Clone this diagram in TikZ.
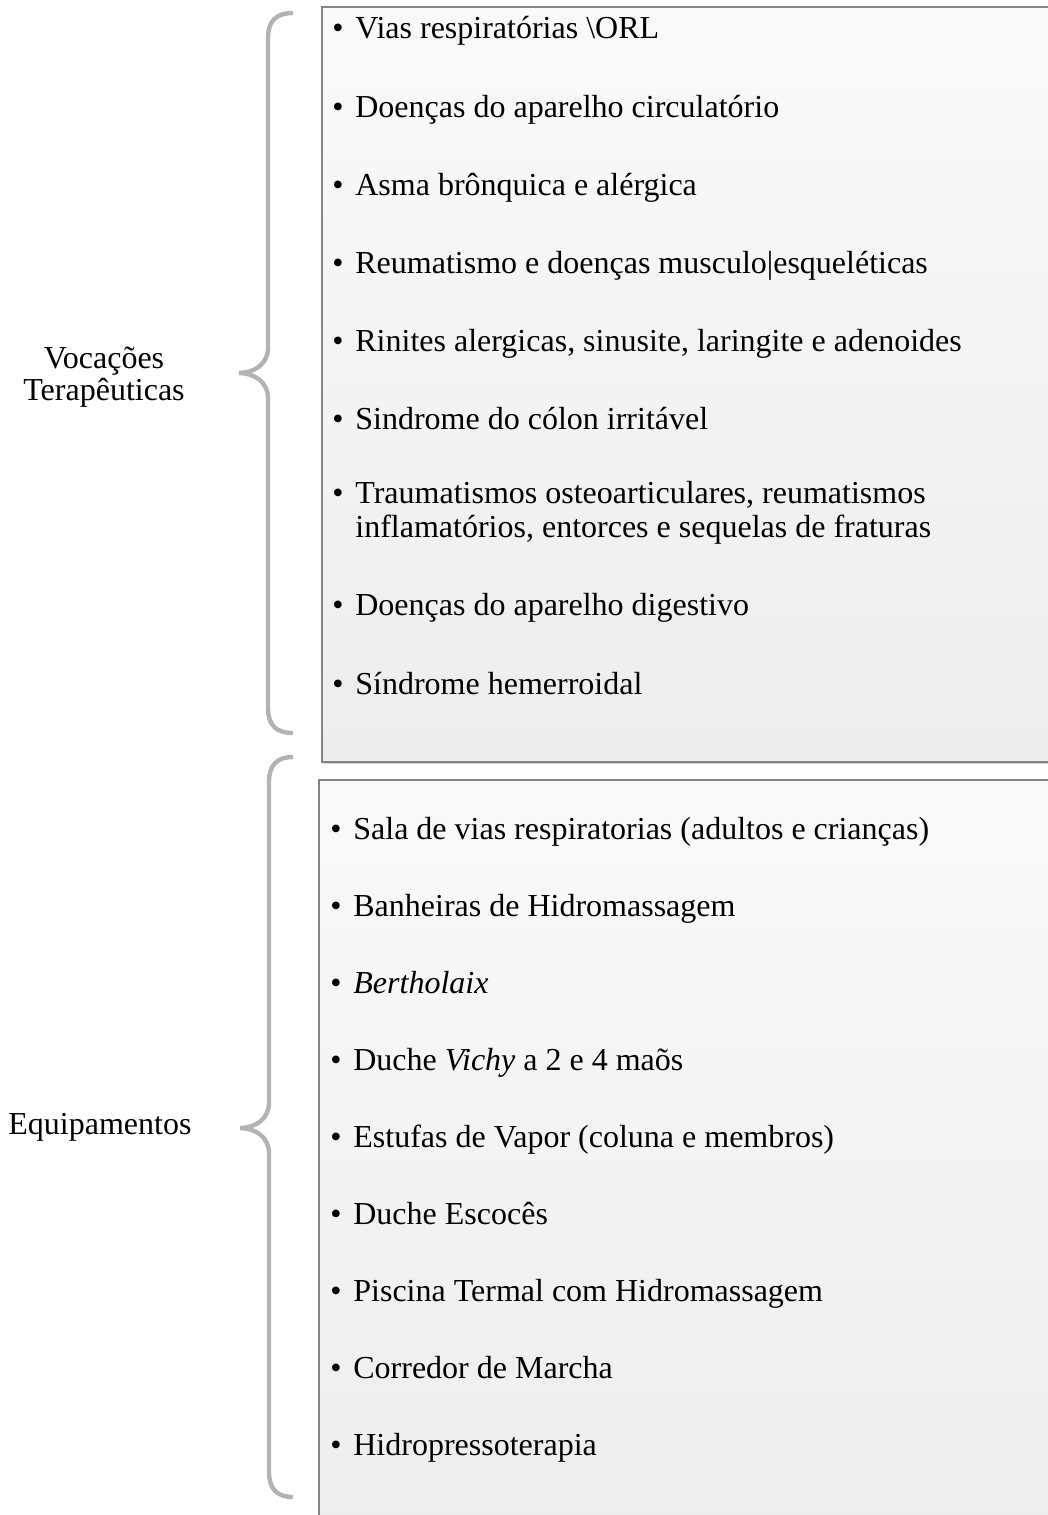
\documentclass[tikz,border=0pt]{standalone}
\usepackage{fontspec}
\setmainfont{Liberation Serif}
\usetikzlibrary{shadows}
\definecolor{bracegray}{HTML}{B3B3B3}
\definecolor{boxline}{HTML}{858585}
\definecolor{boxtop}{HTML}{FAFAFA}
\definecolor{boxbottom}{HTML}{EDEDED}
\newcommand{\bul}{\makebox[11.5pt][l]{\textbullet}}

\begin{document}
\begin{tikzpicture}[x=0.5pt,y=-0.5pt,
		brace/.style={draw=bracegray, line width=2.2pt},
		panel/.style={draw=boxline, line width=0.7pt, top color=boxtop, bottom color=boxbottom,
			drop shadow={opacity=0.35, shadow xshift=1pt, shadow yshift=-1.2pt}},
		item/.style={anchor=base west, inner sep=0pt, align=left, font=\fontsize{16}{17}\selectfont},
		label/.style={inner sep=0pt, align=center, font=\fontsize{16}{16}\selectfont}]
			\useasboundingbox (0,0) rectangle (1048,1515);
			\clip (0,0) rectangle (1048,1515);
			\path[panel] (322,7) rectangle (1070,762);
			\path[panel] (319,780) rectangle (1070,1540);
			\draw[brace] (293,13) .. controls (276,13) and (268,21) .. (268,38) -- (268,348) .. controls (268,364) and (254,373) .. (239,373) .. controls (254,373) and (268,382) .. (268,398) -- (268,708) .. controls (268,725) and (276,733) .. (293,733);
			\draw[brace] (293,757) .. controls (277,757) and (269,765) .. (269,782) -- (269,1103) .. controls (269,1119) and (255,1128) .. (240,1128) .. controls (255,1128) and (269,1137) .. (269,1153) -- (269,1472) .. controls (269,1489) and (277,1497) .. (293,1497);
			\node[label, anchor=base] (vocacoes) at (104,400) {Vocações\\Terapêuticas};
			\node[label, anchor=base west] (equip) at (8,1134) {Equipamentos};
			\node[item] (v1) at (332,39) {\bul Vias respiratórias \textbackslash ORL};
			\node[item] (v2) at (332,117) {\bul Doenças do aparelho circulatório};
			\node[item] (v3) at (332,195) {\bul Asma brônquica e alérgica};
			\node[item] (v4) at (332,273) {\bul Reumatismo e doenças musculo|esqueléticas};
			\node[item] (v5) at (332,351) {\bul Rinites alergicas, sinusite, laringite e adenoides};
			\node[item] (v6) at (332,429) {\bul Sindrome do cólon irritável};
			\node[item] (v7) at (332,537) {\bul Traumatismos osteoarticulares, reumatismos\\\hspace*{11.5pt}inflamatórios, entorces e sequelas de fraturas};
			\node[item] (v8) at (332,615) {\bul Doenças do aparelho digestivo};
			\node[item] (v9) at (332,694) {\bul Síndrome hemerroidal};
			\node[item] (e1) at (330,839) {\bul Sala de vias respiratorias (adultos e crianças)};
			\node[item] (e2) at (330,916) {\bul Banheiras de Hidromassagem};
			\node[item] (e3) at (330,993) {\bul \textit{Bertholaix}};
			\node[item] (e4) at (330,1070) {\bul Duche \textit{Vichy} a 2 e 4 maõs};
			\node[item] (e5) at (330,1147) {\bul Estufas de Vapor (coluna e membros)};
			\node[item] (e6) at (330,1224) {\bul Duche Escocês};
			\node[item] (e7) at (330,1301) {\bul Piscina Termal com Hidromassagem};
			\node[item] (e8) at (330,1378) {\bul Corredor de Marcha};
			\node[item] (e9) at (330,1455) {\bul Hidropressoterapia};
		\end{tikzpicture}
\end{document}
